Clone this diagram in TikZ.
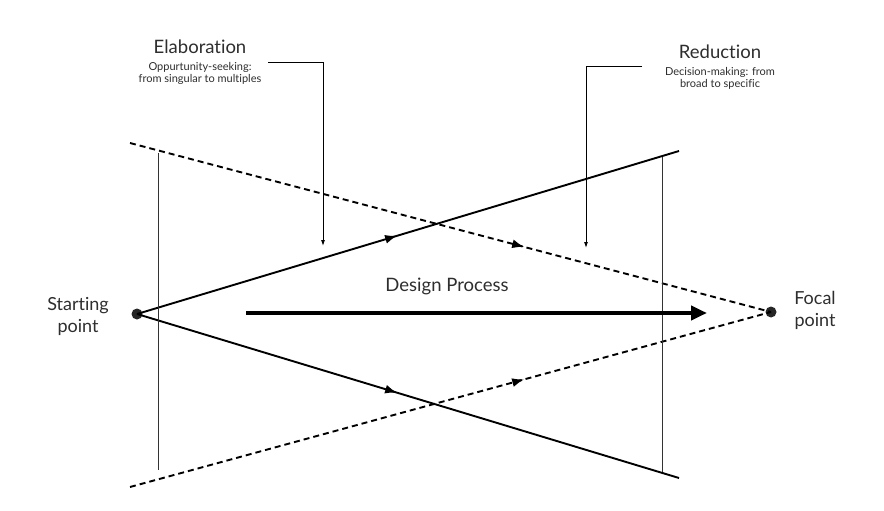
\documentclass[tikz,border=0pt]{standalone}
\usepackage{fontspec}
\setmainfont{Lato}[Ligatures=NoCommon]
\usetikzlibrary{arrows.meta,decorations.markings}
\definecolor{txt}{HTML}{2E2E2E}
\begin{document}
\begin{tikzpicture}[x=1pt,y=-1pt,
  dot/.style={circle,fill=black!85,inner sep=0pt,minimum size=11pt},
  solidline/.style={line width=1.9pt,black},
  dashline/.style={line width=1.9pt,black,dash pattern=on 6pt off 4pt},
  thinline/.style={line width=0.8pt,black!80},
  callout/.style={line width=0.9pt,black},
  midarrow/.style={postaction={decorate},decoration={markings,mark=at position #1 with {\arrow{Latex[length=12pt,width=9pt]}}}},
  big/.style={font=\fontsize{18.5}{20}\selectfont,text=txt},
  small/.style={font=\fontsize{11}{11.5}\selectfont,text=txt,align=center},
  label/.style={font=\fontsize{18}{22}\selectfont,text=txt,align=center}]
\useasboundingbox (0,0) rectangle (884,511);
\fill[white] (0,0) rectangle (884,511);
% points
\node[dot] (S) at (137,314) {};
\node[dot] (F) at (771,312) {};
\coordinate (U) at (679,151);
\coordinate (L) at (679,478);
\coordinate (DU) at (130,143);
\coordinate (DL) at (130,487);
% solid lines
\draw[solidline,midarrow=0.48] (S.center) -- (U);
\draw[solidline,midarrow=0.48] (S.center) -- (L);
% dashed lines
\draw[dashline,midarrow=0.615] (DU) -- (F.center);
\draw[dashline,midarrow=0.615] (DL) -- (F.center);
% vertical thin lines
\coordinate (V1a) at (158,153);
\coordinate (V1b) at (158,470);
\coordinate (V2a) at (662,157);
\coordinate (V2b) at (662,472);
\draw[thinline] (V1a) -- (V1b);
\draw[thinline] (V2a) -- (V2b);
% texts
\node[label] (start) at (78,316) {Starting\\point};
\node[label] (focal) at (815,310) {Focal\\point};
\node[big] (dp) at (447,286) {Design Process};
\node[big] (elab) at (200,47) {Elaboration};
\node[small,anchor=north] (elabsub) at (200,59) {Oppurtunity-seeking:\\from singular to multiples};
\node[big] (red) at (720,52) {Reduction};
\node[small,anchor=north] (redsub) at (720,64) {Decision-making: from\\broad to specific};
% big arrow
\coordinate (A1) at (246,313);
\coordinate (A2) at (707,313);
\draw[line width=4pt,-{Triangle[length=16pt,width=14pt]}] (A1) -- (A2);
% callouts
\coordinate (C1a) at (268,62);
\coordinate (C1b) at (323,62);
\coordinate (C1c) at (323,246);
\draw[callout,-{Latex[length=6pt,width=4pt]}] (C1a) -- (C1b) -- (C1c);
\coordinate (C2a) at (642,66);
\coordinate (C2b) at (586,66);
\coordinate (C2c) at (586,248);
\draw[callout,-{Latex[length=6pt,width=4pt]}] (C2a) -- (C2b) -- (C2c);
\end{tikzpicture}
\end{document}
